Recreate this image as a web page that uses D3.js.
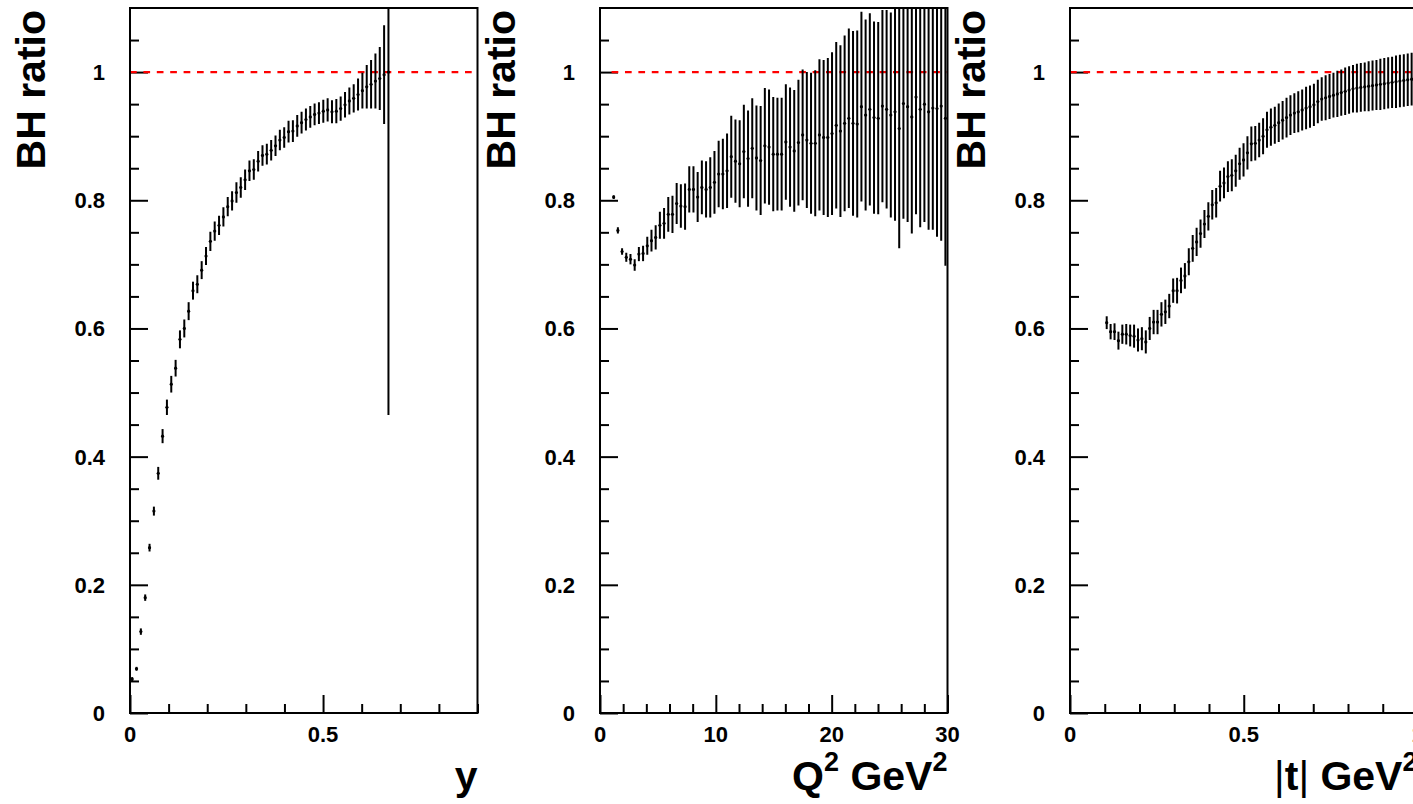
<!DOCTYPE html>
<html><head><meta charset="utf-8">
<script src="https://cdn.jsdelivr.net/npm/d3@7"></script>
<style>
html,body{margin:0;padding:0;background:#fff;}
svg text{font-family:"Liberation Sans",Arial,Helvetica,sans-serif;font-weight:bold;fill:#000;}
</style></head>
<body>
<svg id="c" width="1413" height="804"></svg>
<script>
// ---------------- DATA ----------------
const yTickLabels = ["0", "0.2", "0.4", "0.6", "0.8", "1"];
const yTickValues = [0, 0.2, 0.4, 0.6, 0.8, 1.0];

// panel 1 : BH ratio vs y  (80 bins in [0,0.9], first 60 filled)
const yBins = {lo: 0, hi: 0.9, n: 80};
const yRatio = [0.053,0.069,0.127,0.180,0.258,0.315,0.374,0.432,0.477,0.513,
  0.538,0.583,0.600,0.627,0.659,0.669,0.691,0.713,0.736,0.752,
  0.761,0.774,0.790,0.799,0.812,0.820,0.832,0.846,0.848,0.861,
  0.870,0.872,0.878,0.885,0.894,0.898,0.907,0.908,0.916,0.921,
  0.926,0.930,0.934,0.936,0.939,0.941,0.938,0.939,0.943,0.949,
  0.955,0.959,0.965,0.971,0.977,0.981,0.986,0.990,0.996,1.000];
const yRatioErr = [0.003,0.003,0.005,0.005,0.006,0.007,0.010,0.011,0.012,0.013,
  0.013,0.014,0.014,0.014,0.014,0.014,0.014,0.014,0.015,0.015,
  0.015,0.015,0.015,0.015,0.016,0.016,0.016,0.016,0.016,0.016,
  0.016,0.016,0.016,0.016,0.016,0.016,0.017,0.017,0.017,0.017,
  0.017,0.017,0.017,0.017,0.018,0.018,0.018,0.019,0.019,0.020,
  0.021,0.022,0.025,0.028,0.034,0.038,0.043,0.049,0.077,0.535];

// panel 2 : BH ratio vs Q^2 (80 bins in [1,30])
const q2Bins = {lo: 1, hi: 30, n: 80};
const q2Ratio = [0.805,0.753,0.720,0.711,0.708,0.699,0.716,0.717,0.729,0.737,
  0.742,0.761,0.764,0.778,0.778,0.795,0.791,0.790,0.817,0.817,
  0.805,0.820,0.817,0.820,0.828,0.841,0.841,0.846,0.868,0.861,
  0.857,0.876,0.865,0.881,0.866,0.862,0.885,0.883,0.872,0.872,
  0.872,0.891,0.883,0.877,0.890,0.902,0.894,0.889,0.889,0.902,
  0.898,0.898,0.904,0.917,0.908,0.920,0.928,0.920,0.919,0.946,
  0.933,0.942,0.929,0.928,0.947,0.942,0.933,0.938,0.912,0.951,
  0.946,0.930,0.961,0.942,0.950,0.938,0.944,0.943,0.947,0.928];
const q2RatioErr = [0.003,0.005,0.005,0.007,0.008,0.009,0.011,0.012,0.014,0.017,
  0.019,0.021,0.024,0.027,0.029,0.032,0.034,0.036,0.036,0.036,
  0.039,0.042,0.044,0.047,0.049,0.052,0.055,0.058,0.064,0.065,
  0.068,0.073,0.075,0.078,0.082,0.085,0.090,0.090,0.089,0.088,
  0.088,0.090,0.093,0.095,0.098,0.102,0.106,0.110,0.114,0.118,
  0.121,0.124,0.127,0.130,0.134,0.137,0.140,0.144,0.146,0.148,
  0.149,0.150,0.150,0.150,0.150,0.155,0.160,0.170,0.187,0.180,
  0.180,0.182,0.183,0.184,0.184,0.184,0.190,0.200,0.210,0.230];

// panel 3 : BH ratio vs |t| (80 bins in [0.1,1.0])
const tBins = {lo: 0.1, hi: 1.0, n: 80};
const tRatio = [0.609,0.595,0.595,0.581,0.591,0.591,0.589,0.588,0.582,0.584,
  0.579,0.600,0.610,0.610,0.622,0.626,0.635,0.659,0.659,0.675,
  0.682,0.704,0.725,0.735,0.748,0.763,0.775,0.793,0.796,0.822,
  0.827,0.837,0.839,0.846,0.857,0.863,0.874,0.888,0.889,0.894,
  0.900,0.910,0.914,0.917,0.921,0.925,0.929,0.933,0.936,0.938,
  0.941,0.944,0.946,0.949,0.954,0.958,0.960,0.962,0.964,0.966,
  0.968,0.970,0.972,0.974,0.975,0.976,0.977,0.978,0.979,0.980,
  0.981,0.982,0.983,0.984,0.985,0.986,0.987,0.988,0.989,0.990];
const tRatioErr = [0.010,0.012,0.013,0.014,0.015,0.016,0.017,0.018,0.018,0.018,
  0.018,0.018,0.019,0.019,0.019,0.019,0.019,0.019,0.020,0.020,
  0.020,0.021,0.021,0.022,0.022,0.022,0.022,0.023,0.023,0.024,
  0.024,0.024,0.025,0.025,0.025,0.026,0.026,0.027,0.027,0.027,
  0.028,0.028,0.029,0.029,0.030,0.030,0.031,0.031,0.031,0.032,
  0.032,0.033,0.033,0.033,0.034,0.034,0.035,0.035,0.035,0.036,
  0.036,0.037,0.037,0.037,0.038,0.038,0.038,0.039,0.039,0.039,
  0.040,0.040,0.040,0.040,0.041,0.041,0.041,0.041,0.041,0.042];

const panels = [
  {bins: yBins, vals: yRatio, errs: yRatioErr, xDomain: [0, 0.9], xMajor: [0, 0.5], xMajorLabels: ["0", "0.5"], xMinorStep: 0.1, refStart: 0, title: "y"},
  {bins: q2Bins, vals: q2Ratio, errs: q2RatioErr, xDomain: [0, 30], xMajor: [0, 10, 20, 30], xMajorLabels: ["0", "10", "20", "30"], xMinorStep: 2, refStart: 1, title: "Q2"},
  {bins: tBins, vals: tRatio, errs: tRatioErr, xDomain: [0, 1.0], xMajor: [0, 0.5, 1.0], xMajorLabels: ["0", "0.5", "1"], xMinorStep: 0.1, refStart: 0, title: "t"}
];

// ---------------- LAYOUT ----------------
const frameLefts = [130, 600, 1070];
const frameW = 347.5, frameTop = 8, frameBottom = 713;
const yDomain = [0, 1.1];
const svg = d3.select("#c");

panels.forEach((p, i) => {
  const L = frameLefts[i], R = L + frameW;
  const x = d3.scaleLinear().domain(p.xDomain).range([L, R]);
  const y = d3.scaleLinear().domain(yDomain).range([frameBottom, frameTop]);
  const g = svg.append("g");

  const clipId = "clip" + i;
  svg.append("clipPath").attr("id", clipId).append("rect")
    .attr("x", L).attr("y", frameTop).attr("width", frameW).attr("height", frameBottom - frameTop);

  // Y axis (ticks inside, to the right of the left frame edge)
  const yAxis = d3.axisRight(y).tickValues(yTickValues).tickSize(18).tickFormat("");
  g.append("g").attr("transform", `translate(${L},0)`).call(yAxis)
    .call(s => s.select(".domain").remove())
    .selectAll("line").attr("stroke", "#000").attr("stroke-width", 2);
  const yMinor = d3.range(0, 1.1 + 1e-9, 0.05).filter(v => Math.abs(v / 0.2 - Math.round(v / 0.2)) > 1e-6 && v < 1.099);
  g.append("g").attr("transform", `translate(${L},0)`)
    .call(d3.axisRight(y).tickValues(yMinor).tickSize(9).tickFormat(""))
    .call(s => s.select(".domain").remove())
    .selectAll("line").attr("stroke", "#000").attr("stroke-width", 2);
  // Y tick labels
  g.selectAll(".ylab").data(yTickValues).enter().append("text")
    .attr("x", L - 25).attr("y", d => y(d)).attr("dy", "0.36em")
    .attr("text-anchor", "end").style("font-size", "22px")
    .text((d, k) => yTickLabels[k]);

  // X axis (ticks inside, above bottom frame edge)
  g.append("g").attr("transform", `translate(0,${frameBottom})`)
    .call(d3.axisTop(x).tickValues(p.xMajor).tickSize(18).tickFormat(""))
    .call(s => s.select(".domain").remove())
    .selectAll("line").attr("stroke", "#000").attr("stroke-width", 2);
  const xMinor = d3.range(p.xDomain[0], p.xDomain[1] + 1e-9, p.xMinorStep)
    .filter(v => !p.xMajor.some(m => Math.abs(m - v) < 1e-6));
  g.append("g").attr("transform", `translate(0,${frameBottom})`)
    .call(d3.axisTop(x).tickValues(xMinor).tickSize(9).tickFormat(""))
    .call(s => s.select(".domain").remove())
    .selectAll("line").attr("stroke", "#000").attr("stroke-width", 2);
  g.selectAll(".xlab").data(p.xMajor).enter().append("text")
    .attr("x", d => x(d)).attr("y", 742)
    .attr("text-anchor", "middle").style("font-size", "22px")
    .text((d, k) => p.xMajorLabels[k]);

  // Reference line at 1
  g.append("line").attr("x1", x(p.refStart)).attr("x2", R)
    .attr("y1", y(1)).attr("y2", y(1))
    .attr("stroke", "#ff0000").attr("stroke-width", 2.2).attr("stroke-dasharray", "6.7,6.7");

  // Data
  const bw = (p.bins.hi - p.bins.lo) / p.bins.n;
  const pts = p.vals.map((v, k) => ({xc: p.bins.lo + bw * (k + 0.5), v: v, e: p.errs[k]}));
  const dg = g.append("g").attr("clip-path", `url(#${clipId})`);
  dg.selectAll(".err").data(pts).enter().append("line")
    .attr("x1", d => x(d.xc)).attr("x2", d => x(d.xc))
    .attr("y1", d => y(d.v - d.e)).attr("y2", d => y(d.v + d.e))
    .attr("stroke", "#000").attr("stroke-width", 2);
  dg.selectAll(".mk").data(pts).enter().append("circle")
    .attr("cx", d => x(d.xc)).attr("cy", d => y(d.v)).attr("r", 1.6)
    .attr("fill", "#000");

  // Frame
  g.append("rect").attr("x", L).attr("y", frameTop).attr("width", frameW).attr("height", frameBottom - frameTop)
    .attr("fill", "none").attr("stroke", "#000").attr("stroke-width", 2);

  // Y title
  g.append("text").attr("transform", `translate(${L - 85},10) rotate(-90)`)
    .attr("text-anchor", "end").style("font-size", "41px").text("BH ratio");

  // X title
  const xt = g.append("text").attr("x", R).attr("y", 790).attr("text-anchor", "end").style("font-size", "41px");
  if (p.title === "y") {
    xt.text("y");
  } else if (p.title === "Q2") {
    xt.append("tspan").text("Q");
    xt.append("tspan").attr("dy", -19).style("font-size", "27px").text("2");
    xt.append("tspan").attr("dy", 19).text(" GeV");
    xt.append("tspan").attr("dy", -19).style("font-size", "27px").text("2");
  } else {
    xt.append("tspan").style("font-weight", "normal").text("|");
    xt.append("tspan").text("t");
    xt.append("tspan").style("font-weight", "normal").text("|");
    xt.append("tspan").text(" GeV");
    xt.append("tspan").attr("dy", -19).style("font-size", "27px").text("2");
  }
});
</script>
</body></html>
